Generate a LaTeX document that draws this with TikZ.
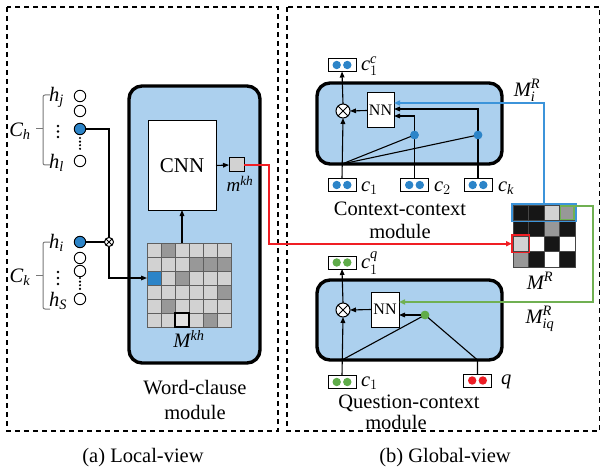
\documentclass[tikz,border=0pt]{standalone}
\usepackage{amsmath}
\usepackage{fontspec}
\setmainfont{Liberation Serif}
\usetikzlibrary{arrows.meta,fit}

\definecolor{modfill}{RGB}{172,208,238}
\definecolor{dotblue}{RGB}{44,132,200}
\definecolor{linkblue}{RGB}{60,148,218}
\definecolor{dotgreen}{RGB}{96,172,74}
\definecolor{linkgreen}{RGB}{112,176,82}
\definecolor{dotred}{RGB}{236,28,36}
\definecolor{linkred}{RGB}{240,30,36}
\definecolor{cellL}{RGB}{210,210,210}
\definecolor{cellD}{RGB}{152,152,152}
\definecolor{cellW}{RGB}{226,226,226}
\definecolor{cellB}{RGB}{44,132,200}
\definecolor{cellK}{RGB}{22,22,22}
\definecolor{cellX}{RGB}{255,255,255}
\definecolor{bracketgray}{RGB}{120,120,120}

\newcommand\ii[1]{\textit{#1}}
% a small vector: box with two coloured units
\newcommand\vecunit[3]{%
  \node[vecbox] (#1) at (#2) {};
  \fill[#3] ([xshift=-5.3pt]#1.center) circle[radius=4.2pt];
  \fill[#3] ([xshift=5.3pt]#1.center) circle[radius=4.2pt];
}

\begin{document}
\begin{tikzpicture}[x=1pt,y=-1pt,
  every node/.style={inner sep=0pt, outer sep=0pt},
  lbl/.style={font=\fontsize{20.5}{23}\selectfont},
  frame/.style={draw, line width=1.1pt, dash pattern=on 5pt off 4pt},
  module/.style={draw, line width=3.4pt, fill=modfill, rounded corners=13pt},
  conn/.style={line width=1.1pt},
  arr/.style={conn, -{Triangle[length=6pt,width=4.6pt]}},
  link/.style={line width=1.7pt, -{Triangle[length=6pt,width=5pt]}},
  unit/.style={circle, draw, line width=0.9pt, fill=white, minimum size=11.5pt},
  unitB/.style={unit, fill=dotblue},
  vecbox/.style={draw, line width=1pt, fill=white, minimum width=28pt, minimum height=13pt},
  nnbox/.style={draw, line width=1pt, fill=white, font=\fontsize{16}{18}\selectfont},
  otimes/.style={circle, draw, fill=white, line width=1pt, minimum size=#1,
    path picture={\draw[line width=0.9pt]
      (path picture bounding box.north west) -- (path picture bounding box.south east)
      (path picture bounding box.north east) -- (path picture bounding box.south west);}},
  otimes/.default=14pt,
  khcell/.style={draw={rgb,255:red,95;green,95;blue,95}, line width=0.8pt, minimum size=14pt},
  rcell/.style={draw={rgb,255:red,70;green,70;blue,70}, line width=0.8pt, minimum size=15.5pt},
  bracket/.style={draw=bracketgray, line width=1pt, rounded corners=2pt},
  vdots/.style={line width=2.4pt, line cap=round, dash pattern=on 0pt off 3.6pt},
]
\useasboundingbox (0,0) rectangle (602,473);

% ---------- panel frames ----------
\draw[frame] (7,7) rectangle (278,431);
\draw[frame] (287,7) rectangle (599.5,431);
\node[lbl] at (143,458) {(a) Local-view};
\node[lbl] at (445,458) {(b) Global-view};

% ---------- (a) local view ----------
\node[module, minimum width=131pt, minimum height=277pt] (wc) at (194.5,224.5) {};
\node[lbl, align=center, font=\fontsize{20.5}{25}\selectfont] at (195,399.5) {Word-clause\\module};

% word units of clause h
\node[unit]  (hj) at (80,96) {};
\node[unit]  (h2) at (80,111) {};
\node[unitB] (hb) at (80,129) {};
\node[unit]  (hl) at (80,161) {};
\draw[vdots] (80,138) -- (80,152);
% word units of clause k
\node[unitB] (hi) at (80,242) {};
\node[unit]  (h5) at (80,258) {};
\node[unit]  (h6) at (80,271) {};
\node[unit]  (hs) at (80,299) {};
\draw[vdots] (80,278) -- (80,291);

\node[lbl, anchor=west] at (49,97) {$\ii{h}_{\ii{j}}$};
\node[lbl, anchor=west] at (49,163) {$\ii{h}_{\ii{l}}$};
\node[lbl, anchor=west] at (49,243) {$\ii{h}_{\ii{i}}$};
\node[lbl, anchor=west] at (49,301) {$\ii{h}_{\ii{S}}$};
\foreach \y in {126,131.5,137} \fill (58,\y) circle[radius=1.4pt];
\foreach \y in {272,278,284} \fill (58,\y) circle[radius=1.4pt];

\draw[bracket] (50,95) -- (43,95) -- (43,165) -- (50,165);
\draw[bracket] (43,129) -- (36,129);
\draw[bracket] (50,242) -- (43,242) -- (43,309) -- (50,309);
\draw[bracket] (43,275) -- (36,275);
\node[lbl] at (20,131) {$\ii{C}_{\ii{h}}$};
\node[lbl] at (20,277) {$\ii{C}_{\ii{k}}$};

\node[otimes=9pt] (ot) at (109,242) {};

% word-clause matrix
\foreach \row [count=\r] in {{L,D,L,L,L,L},{L,L,L,D,D,D},{B,L,D,L,L,L},{L,L,L,L,L,D},{L,D,L,L,L,L},{L,L,W,L,D,L}}{
  \foreach \c [count=\k] in \row {
    \node[khcell, fill=cell\c] (kh-\r-\k) at ({147+14*(\k-0.5)},{243+14*(\r-0.5)}) {};
  }
}
\draw[line width=1.1pt] (kh-6-3.south west) rectangle (kh-6-3.north east);
\node[lbl] at (189,339) {$\ii{M}^{\ii{kh}}$};

\node[draw, line width=1pt, fill=white, minimum width=68pt, minimum height=89pt,
      font=\fontsize{21}{23}\selectfont] (cnn) at (182,165.5) {CNN};
\node[draw, line width=1pt, fill=cellL, minimum width=15pt, minimum height=14pt] (mkh) at (236.5,165) {};
\node[font=\fontsize{19}{21}\selectfont] at (240,184) {$\ii{m}^{\ii{kh}}$};

\draw[conn] (hb.east) -| (ot.north);
\draw[conn] (hi.east) -- (ot.west);
\draw[arr] (ot.south) |- (kh-3-1.west);
\draw[arr] (kh-1-3.north) -- (cnn.south);
\draw[arr] (cnn.east) -- (mkh.west);

% ---------- (b) global view ----------
\node[module, minimum width=185pt, minimum height=81pt] (modcc) at (409.5,123.5) {};
\node[module, minimum width=185pt, minimum height=80pt] (modqc) at (409.5,320) {};

\node[lbl, align=center, font=\fontsize{20.5}{23.5}\selectfont] at (400,220.5) {Context-context\\module};
\node[lbl] at (409,403) {Question-context};
\node[lbl] at (396,422.5) {module};

% relation matrix
\foreach \row [count=\r] in {{K,K,L,D},{K,K,D,K},{L,X,K,X},{D,K,X,K}}{
  \foreach \c [count=\k] in \row {
    \node[rcell, fill=cell\c] (mr-\r-\k) at ({513+15.5*(\k-0.5)},{205+15.5*(\r-0.5)}) {};
  }
}
\node[draw=linkblue, line width=1.8pt, fit=(mr-1-1)(mr-1-4), inner sep=1pt] (rowbox) {};
\node[draw=linkgreen, line width=1.4pt, fit=(mr-1-4), inner sep=-1.2pt] (gbox) {};
\node[draw=linkred, line width=1.6pt, fit=(mr-3-1), inner sep=1pt] (rbox) {};
\node[lbl] at (540,281) {$\ii{M}^{\ii{R}}$};
\node[lbl] at (527,90) {$\ii{M}^{\ii{R}}_{\ii{i}}$};
\node[lbl] at (540,319) {$\ii{M}^{\ii{R}}_{\ii{iq}}$};

% context-context module
\node[otimes] (o1) at (343,111) {};
\node[nnbox, minimum width=27pt, minimum height=35pt] (nn1) at (380.5,110.5) {NN};
\vecunit{out1}{342,65}{dotblue}
\vecunit{c1a}{342,185}{dotblue}
\vecunit{c2a}{414.5,185}{dotblue}
\vecunit{cka}{478,185}{dotblue}
\node[lbl, anchor=west] at (361,66) {$\ii{c}^{\ii{c}}_{1}$};
\node[lbl, anchor=west] at (361,188) {$\ii{c}_{1}$};
\node[lbl, anchor=west] at (434,188) {$\ii{c}_{2}$};
\node[lbl, anchor=west] at (498,188) {$\ii{c}_{\ii{k}}$};

\coordinate (fan1) at (c1a.north |- modcc.south);
\draw[arr] (c1a.north) -- (o1.south);
\draw[arr] (o1.north) -- (out1.south);
\draw[arr] (nn1.west) -- (o1.east);
\draw[arr] (c2a.north) |- ([yshift=-5.5pt]nn1.east);
\draw[arr] (cka.north) |- ([yshift=1.5pt]nn1.east);
\node[circle, fill=dotblue, minimum size=8.5pt] (d2) at (414.5,135) {};
\node[circle, fill=dotblue, minimum size=8.5pt] (dk) at (478,135) {};
\draw[conn] (fan1) -- (d2.center);
\draw[conn] (fan1) -- (dk.center);
\fill[dotblue] (d2) circle[radius=4.25pt];
\fill[dotblue] (dk) circle[radius=4.25pt];

% question-context module
\node[otimes] (o2) at (343,310) {};
\node[nnbox, minimum width=28pt, minimum height=35pt] (nn2) at (385,309.5) {NN};
\vecunit{out2}{342,262.5}{dotgreen}
\vecunit{c1b}{342,382}{dotgreen}
\vecunit{qb}{477.5,380.5}{dotred}
\node[lbl, anchor=west] at (361,263) {$\ii{c}^{\ii{q}}_{1}$};
\node[lbl, anchor=west] at (361,383.5) {$\ii{c}_{1}$};
\node[lbl, anchor=west] at (501,382) {$\ii{q}$};

\coordinate (fan2) at (c1b.north |- modqc.south);
\coordinate (qbend) at (qb.north |- modqc.south);
\draw[arr] (c1b.north) -- (o2.south);
\draw[arr] (o2.north) -- (out2.south);
\draw[arr] (nn2.west) -- (o2.east);
\node[circle, fill=dotgreen, minimum size=8.5pt] (g) at (425,315) {};
\draw[conn] (fan2) -- (g.center) -- (qbend) -- (qb.north);
\draw[arr] (g.center) -- (nn2.east |- g);
\fill[dotgreen] (g) circle[radius=4.25pt];

% ---------- links between the views ----------
\draw[link, color=linkred] (mkh.east) -- ++(25,0) |- (rbox.west);
\draw[link, color=linkblue] (rowbox.north) |- ([yshift=7.5pt]nn1.east);
\draw[link, color=linkgreen] (gbox.north east) -- ++(19,0) |- ([yshift=7.5pt]nn2.east);
\end{tikzpicture}
\end{document}
